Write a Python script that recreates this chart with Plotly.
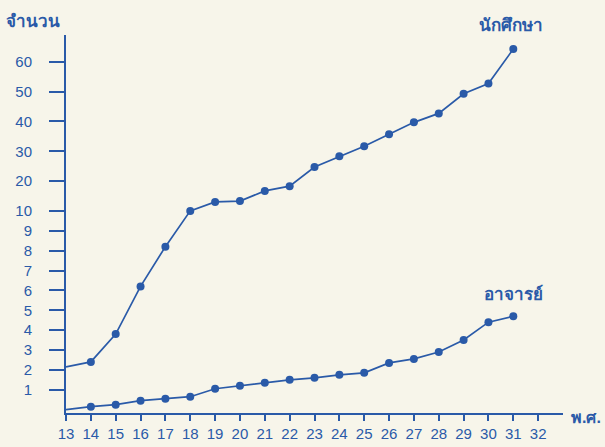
import plotly.graph_objects as go

years = [13, 14, 15, 16, 17, 18, 19, 20, 21, 22, 23, 24, 25, 26, 27, 28, 29, 30, 31]
students = [2.15, 2.4, 3.8, 6.2, 8.2, 10, 13, 13.3, 16.7, 18.3, 24.7, 28.3, 31.7, 35.7, 39.7, 42.7, 49.3, 52.7, 64.3]
teachers = [0, 0.15, 0.25, 0.45, 0.55, 0.65, 1.05, 1.2, 1.35, 1.5, 1.6, 1.75, 1.85, 2.35, 2.55, 2.9, 3.5, 4.4, 4.7]
y_tick_values = [1, 2, 3, 4, 5, 6, 7, 8, 9, 10, 20, 30, 40, 50, 60]
x_tick_values = list(range(13, 33))

BLUE = "#2a5aa8"
BG = "#f7f5ea"
FONT = "Liberation Sans, Arial, sans-serif"


def pos(v):
    # broken scale: 0-10 linear, above 10 each 10 units take 1.5 lower units
    return v if v <= 10 else 10 + (v - 10) / 10 * 1.5


fig = go.Figure()

fig.add_trace(go.Scatter(
    x=years, y=[pos(v) for v in students], customdata=students,
    mode="lines", line=dict(color=BLUE, width=1.7), showlegend=False,
    hovertemplate="%{x}: %{customdata}<extra></extra>"))
fig.add_trace(go.Scatter(
    x=years[1:], y=[pos(v) for v in students[1:]], customdata=students[1:],
    mode="markers", marker=dict(color=BLUE, size=8), showlegend=False,
    hovertemplate="%{x}: %{customdata}<extra></extra>"))
fig.add_trace(go.Scatter(
    x=years, y=[pos(v) for v in teachers], customdata=teachers,
    mode="lines", line=dict(color=BLUE, width=1.7), showlegend=False,
    hovertemplate="%{x}: %{customdata}<extra></extra>"))
fig.add_trace(go.Scatter(
    x=years[1:], y=[pos(v) for v in teachers[1:]], customdata=teachers[1:],
    mode="markers", marker=dict(color=BLUE, size=8), showlegend=False,
    hovertemplate="%{x}: %{customdata}<extra></extra>"))

fig.update_layout(
    width=605, height=447,
    margin=dict(l=66, r=42, t=35, b=34),
    paper_bgcolor=BG, plot_bgcolor=BG,
    font=dict(family=FONT, color=BLUE, size=14),
    xaxis=dict(
        range=[13, 33], showgrid=False, zeroline=False, automargin=False,
        showline=True, linecolor=BLUE, linewidth=2,
        tickmode="array", tickvals=x_tick_values,
        ticktext=[str(v) for v in x_tick_values],
        ticks="outside", ticklen=6, tickwidth=2, tickcolor=BLUE,
        tickfont=dict(size=15, color=BLUE, family=FONT),
    ),
    yaxis=dict(
        range=[-0.17, 18.85], showgrid=False, zeroline=False, automargin=False,
        showline=True, linecolor=BLUE, linewidth=2,
        tickmode="array", tickvals=[pos(v) for v in y_tick_values],
        ticktext=[str(v) for v in y_tick_values],
        ticks="outside", ticklen=15, tickwidth=2, tickcolor=BLUE,
        ticklabelstandoff=14,
        tickfont=dict(size=15, color=BLUE, family=FONT),
    ),
    annotations=[
        dict(text="<b>จำนวน</b>", xref="paper", yref="paper", x=-0.125, y=1.005,
             xanchor="left", yanchor="bottom", showarrow=False,
             font=dict(size=17, color=BLUE)),
        dict(text="<b>พ.ศ.</b>", xref="paper", yref="paper", x=1.081, y=0.015,
             xanchor="right", yanchor="top", showarrow=False,
             font=dict(size=16, color=BLUE)),
        dict(text="<b>นักศึกษา</b>", x=30.9, y=pos(64.3), xref="x", yref="y",
             yshift=24, showarrow=False, font=dict(size=17, color=BLUE)),
        dict(text="<b>อาจารย์</b>", x=31.0, y=pos(4.7), xref="x", yref="y",
             yshift=22, showarrow=False, font=dict(size=17, color=BLUE)),
    ],
)

fig.write_html("out.html", config={"displayModeBar": False},
               post_script="document.body.style.margin='0';")
